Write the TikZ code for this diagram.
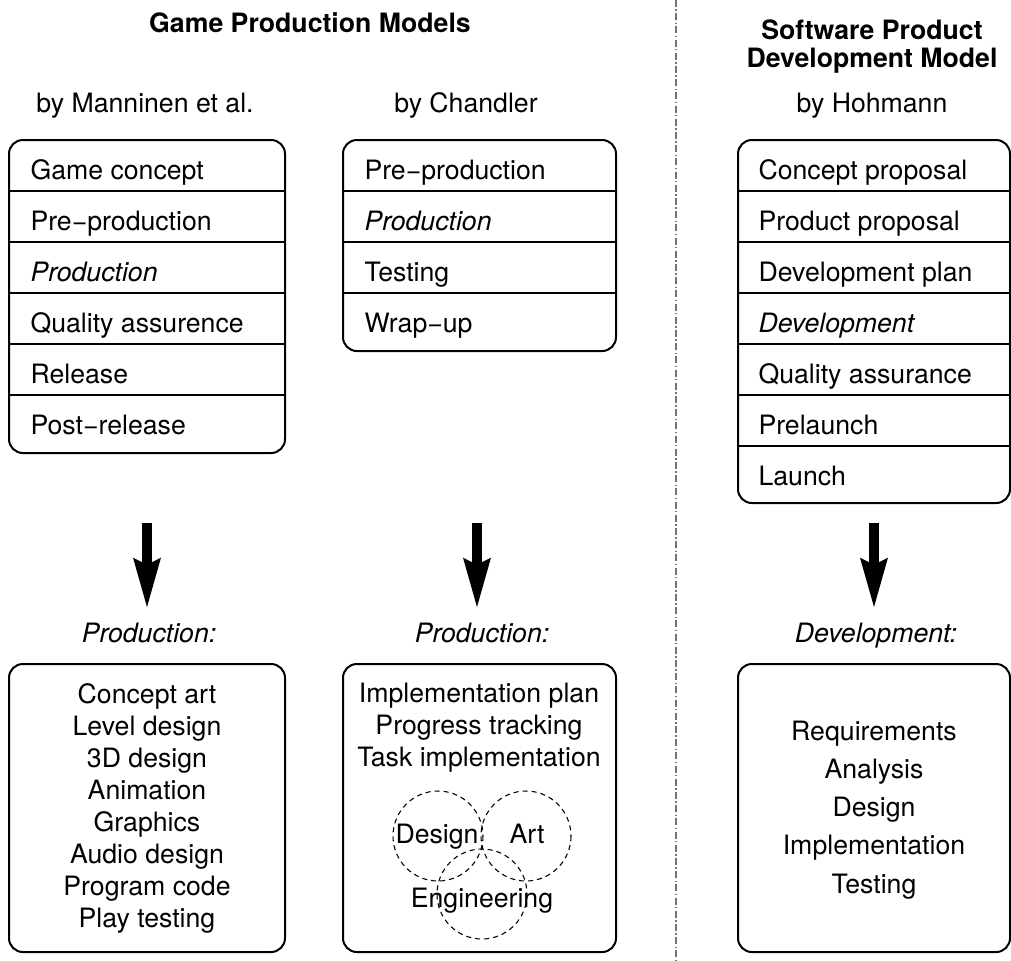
\documentclass[tikz,border=0pt]{standalone}
\usepackage{fontspec}
\setmainfont{TeX Gyre Heros}
\usetikzlibrary{arrows.meta}

\begin{document}
\begin{tikzpicture}[x=0.375pt,y=-0.375pt,
	row/.style={anchor=base west,inner sep=0pt},
	mid/.style={anchor=base,inner sep=0pt},
	frame/.style={line width=0.75pt,rounded corners=5.2pt},
	bigarrow/.style={line width=3.4pt,
		-{Stealth[length=18.5pt,width=10.5pt,inset=2.6pt,line width=0pt]}},
	venn/.style={line width=0.4pt,dash pattern=on 1.9pt off 1.5pt}]
\useasboundingbox (0,0) rectangle (1011,960);
% divider between the two groups
\draw [black!55,line width=0.55pt,dash pattern=on 2.6pt off 0.9pt on 0.55pt off 0.9pt]
	(676,0)--(676,960);
% headings
\node[mid,font=\bfseries] (gpm) at (310,32) {Game Production Models};
\node[mid,font=\bfseries] (spd) at (872,39) {Software Product};
\node[mid,font=\bfseries] (spdm) at (872,67) {Development Model};
\node[mid] (bymann) at (145,112) {by Manninen et al.};
\node[mid] (bychan) at (466,112) {by Chandler};
\node[mid] (byhoh) at (872,112) {by Hohmann};
% phase lists
\draw [frame] (9,140) rectangle (285,453);
\draw [line width=0.75pt] (9,191)--(285,191) (9,242)--(285,242) (9,293)--(285,293)
	(9,344)--(285,344) (9,395)--(285,395);
\node[row] (m1) at (30,179) {Game concept};
\node[row] (m2) at (30,230) {Pre−production};
\node[row] (m3) at (30,281) {\itshape Production};
\node[row] (m4) at (30,332) {Quality assurence};
\node[row] (m5) at (30,383) {Release};
\node[row] (m6) at (30,434) {Post−release};

\draw [frame] (343,140) rectangle (616,351);
\draw [line width=0.75pt] (343,191)--(616,191) (343,242)--(616,242) (343,293)--(616,293);
\node[row] (c1) at (364,179) {Pre−production};
\node[row] (c2) at (364,230) {\itshape Production};
\node[row] (c3) at (364,281) {Testing};
\node[row] (c4) at (364,332) {Wrap−up};

\draw [frame] (738,140) rectangle (1010,503);
\draw [line width=0.75pt] (738,191)--(1010,191) (738,242)--(1010,242) (738,293)--(1010,293)
	(738,344)--(1010,344) (738,395)--(1010,395) (738,446)--(1010,446);
\node[row] (h1) at (758,179) {Concept proposal};
\node[row] (h2) at (758,230) {Product proposal};
\node[row] (h3) at (758,281) {Development plan};
\node[row] (h4) at (758,332) {\itshape Development};
\node[row] (h5) at (758,383) {Quality assurance};
\node[row] (h6) at (758,434) {Prelaunch};
\node[row] (h7) at (758,485) {Launch};
% arrows down to the detailed phase
\coordinate (ma) at (147,523);
\coordinate (mb) at (147,607);
\coordinate (ca) at (477,523);
\coordinate (cb) at (477,607);
\coordinate (ha) at (874,523);
\coordinate (hb) at (874,607);
\draw [bigarrow] (ma)--(mb);
\draw [bigarrow] (ca)--(cb);
\draw [bigarrow] (ha)--(hb);
\node[mid,font=\itshape] (mprod) at (149,642) {Production:};
\node[mid,font=\itshape] (cprod) at (482,642) {Production:};
\node[mid,font=\itshape] (hdev) at (876,642) {Development:};
% detail boxes (node sits on the last line)
\draw [frame] (9,664) rectangle (285,952);
\node[mid,align=center] (mdet) at (147,927)
	{Concept art\\Level design\\3D design\\Animation\\Graphics\\Audio design\\Program code\\Play testing};

\draw [frame] (343,664) rectangle (616,952);
\node[mid,align=center] (cdet) at (479,766)
	{Implementation plan\\Progress tracking\\Task implementation};
\draw [venn] (438,836) circle (45);
\draw [venn] (526,836) circle (45);
\draw [venn] (482,894) circle (45);
\node[mid] (vd) at (437,843) {Design};
\node[mid] (va) at (527,843) {Art};
\node[mid] (ve) at (482,907) {Engineering};

\draw [frame] (738,664) rectangle (1010,952);
\node[mid,align=center,font=\fontsize{10}{14.3}\selectfont] (hdet) at (874,893)
	{Requirements\\Analysis\\Design\\Implementation\\Testing};
\end{tikzpicture}
\end{document}
